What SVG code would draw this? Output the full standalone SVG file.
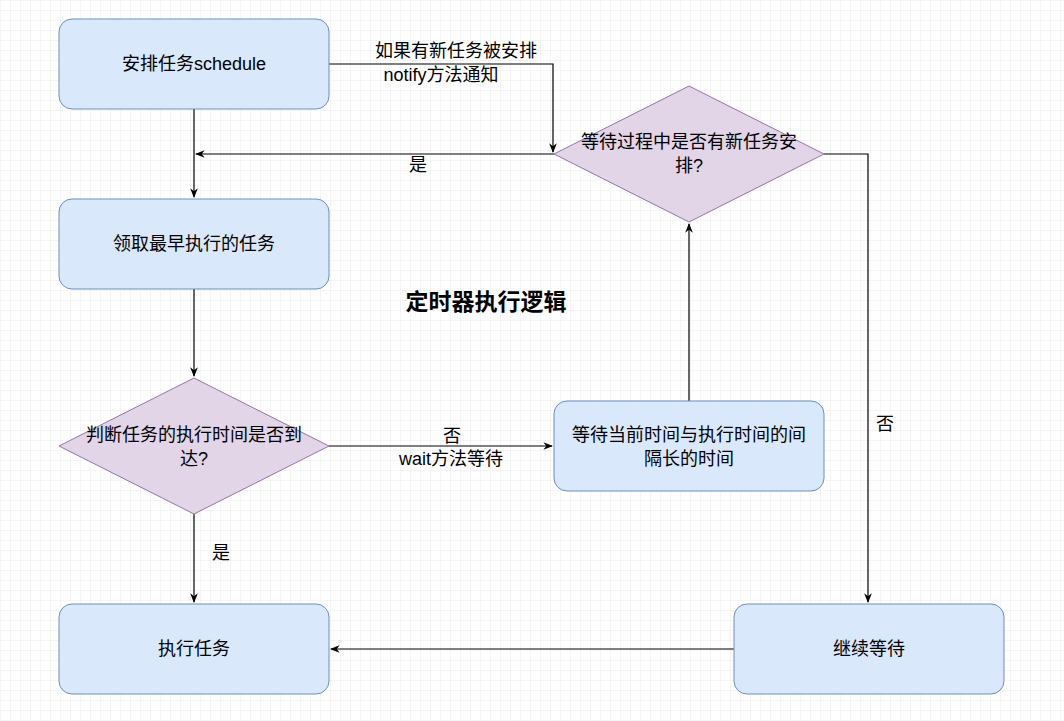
<svg xmlns="http://www.w3.org/2000/svg" width="1064" height="721" viewBox="0 0 1064 721">
<defs>
<pattern id="g" width="10" height="10" patternUnits="userSpaceOnUse"><path d="M10 0H0V10" fill="none" stroke="#ececec" stroke-width="1"/></pattern>
<marker id="a" viewBox="0 0 10 10" refX="9" refY="5" markerWidth="8" markerHeight="8" orient="auto"><path d="M0 1L10 5L0 9L3 5Z" fill="#000"/></marker>
<style>
.b{fill:#dae8fc;stroke:#6c8ebf;stroke-width:1}
.d{fill:#e1d5e7;stroke:#9673a6;stroke-width:1}
text{font-family:"Liberation Sans","Noto Sans CJK SC",sans-serif;font-size:18px;fill:#000;text-anchor:middle}
.c path{fill:none;stroke:#000;stroke-width:1.2;marker-end:url(#a)}
</style>
</defs>
<rect width="1064" height="721" fill="#fff"/>
<rect width="1064" height="721" fill="url(#g)"/>
<g class="c">
<path d="M194 109V197"/>
<path d="M554 154H196"/>
<path d="M329 64H553V152"/>
<path d="M194 289V376"/>
<path d="M329 446H552"/>
<path d="M689 401V224"/>
<path d="M824 154H868V602"/>
<path d="M194 514V602"/>
<path d="M734 649H331"/>
<text x="418" y="171">是</text>
<text x="456" y="57">如果有新任务被安排</text>
<text x="441" y="81">notify方法通知</text>
<text x="452" y="442">否</text>
<text x="451" y="465">wait方法等待</text>
<text x="885" y="430">否</text>
<text x="221" y="559">是</text>
</g>
<g id="A"><rect class="b" x="59" y="19" width="270" height="90" rx="13"/><text x="194" y="70">安排任务schedule</text></g>
<g id="B"><rect class="b" x="59" y="199" width="270" height="90" rx="13"/><text x="194" y="250">领取最早执行的任务</text></g>
<g id="C"><polygon class="d" points="59,446 194,378 329,446 194,514"/><text x="194" y="441">判断任务的执行时间是否到</text><text x="194" y="465">达?</text></g>
<g id="D"><rect class="b" x="59" y="604" width="270" height="90" rx="13"/><text x="194" y="655">执行任务</text></g>
<g id="E"><rect class="b" x="554" y="401" width="270" height="90" rx="13"/><text x="689" y="441">等待当前时间与执行时间的间</text><text x="689" y="465">隔长的时间</text></g>
<g id="F"><polygon class="d" points="554,154 689,86 824,154 689,222"/><text x="689" y="148">等待过程中是否有新任务安</text><text x="689" y="172">排?</text></g>
<g id="G"><rect class="b" x="734" y="604" width="270" height="90" rx="13"/><text x="869" y="655">继续等待</text></g>
<text x="486" y="310" style="font-size:23px;font-weight:bold">定时器执行逻辑</text>
</svg>
